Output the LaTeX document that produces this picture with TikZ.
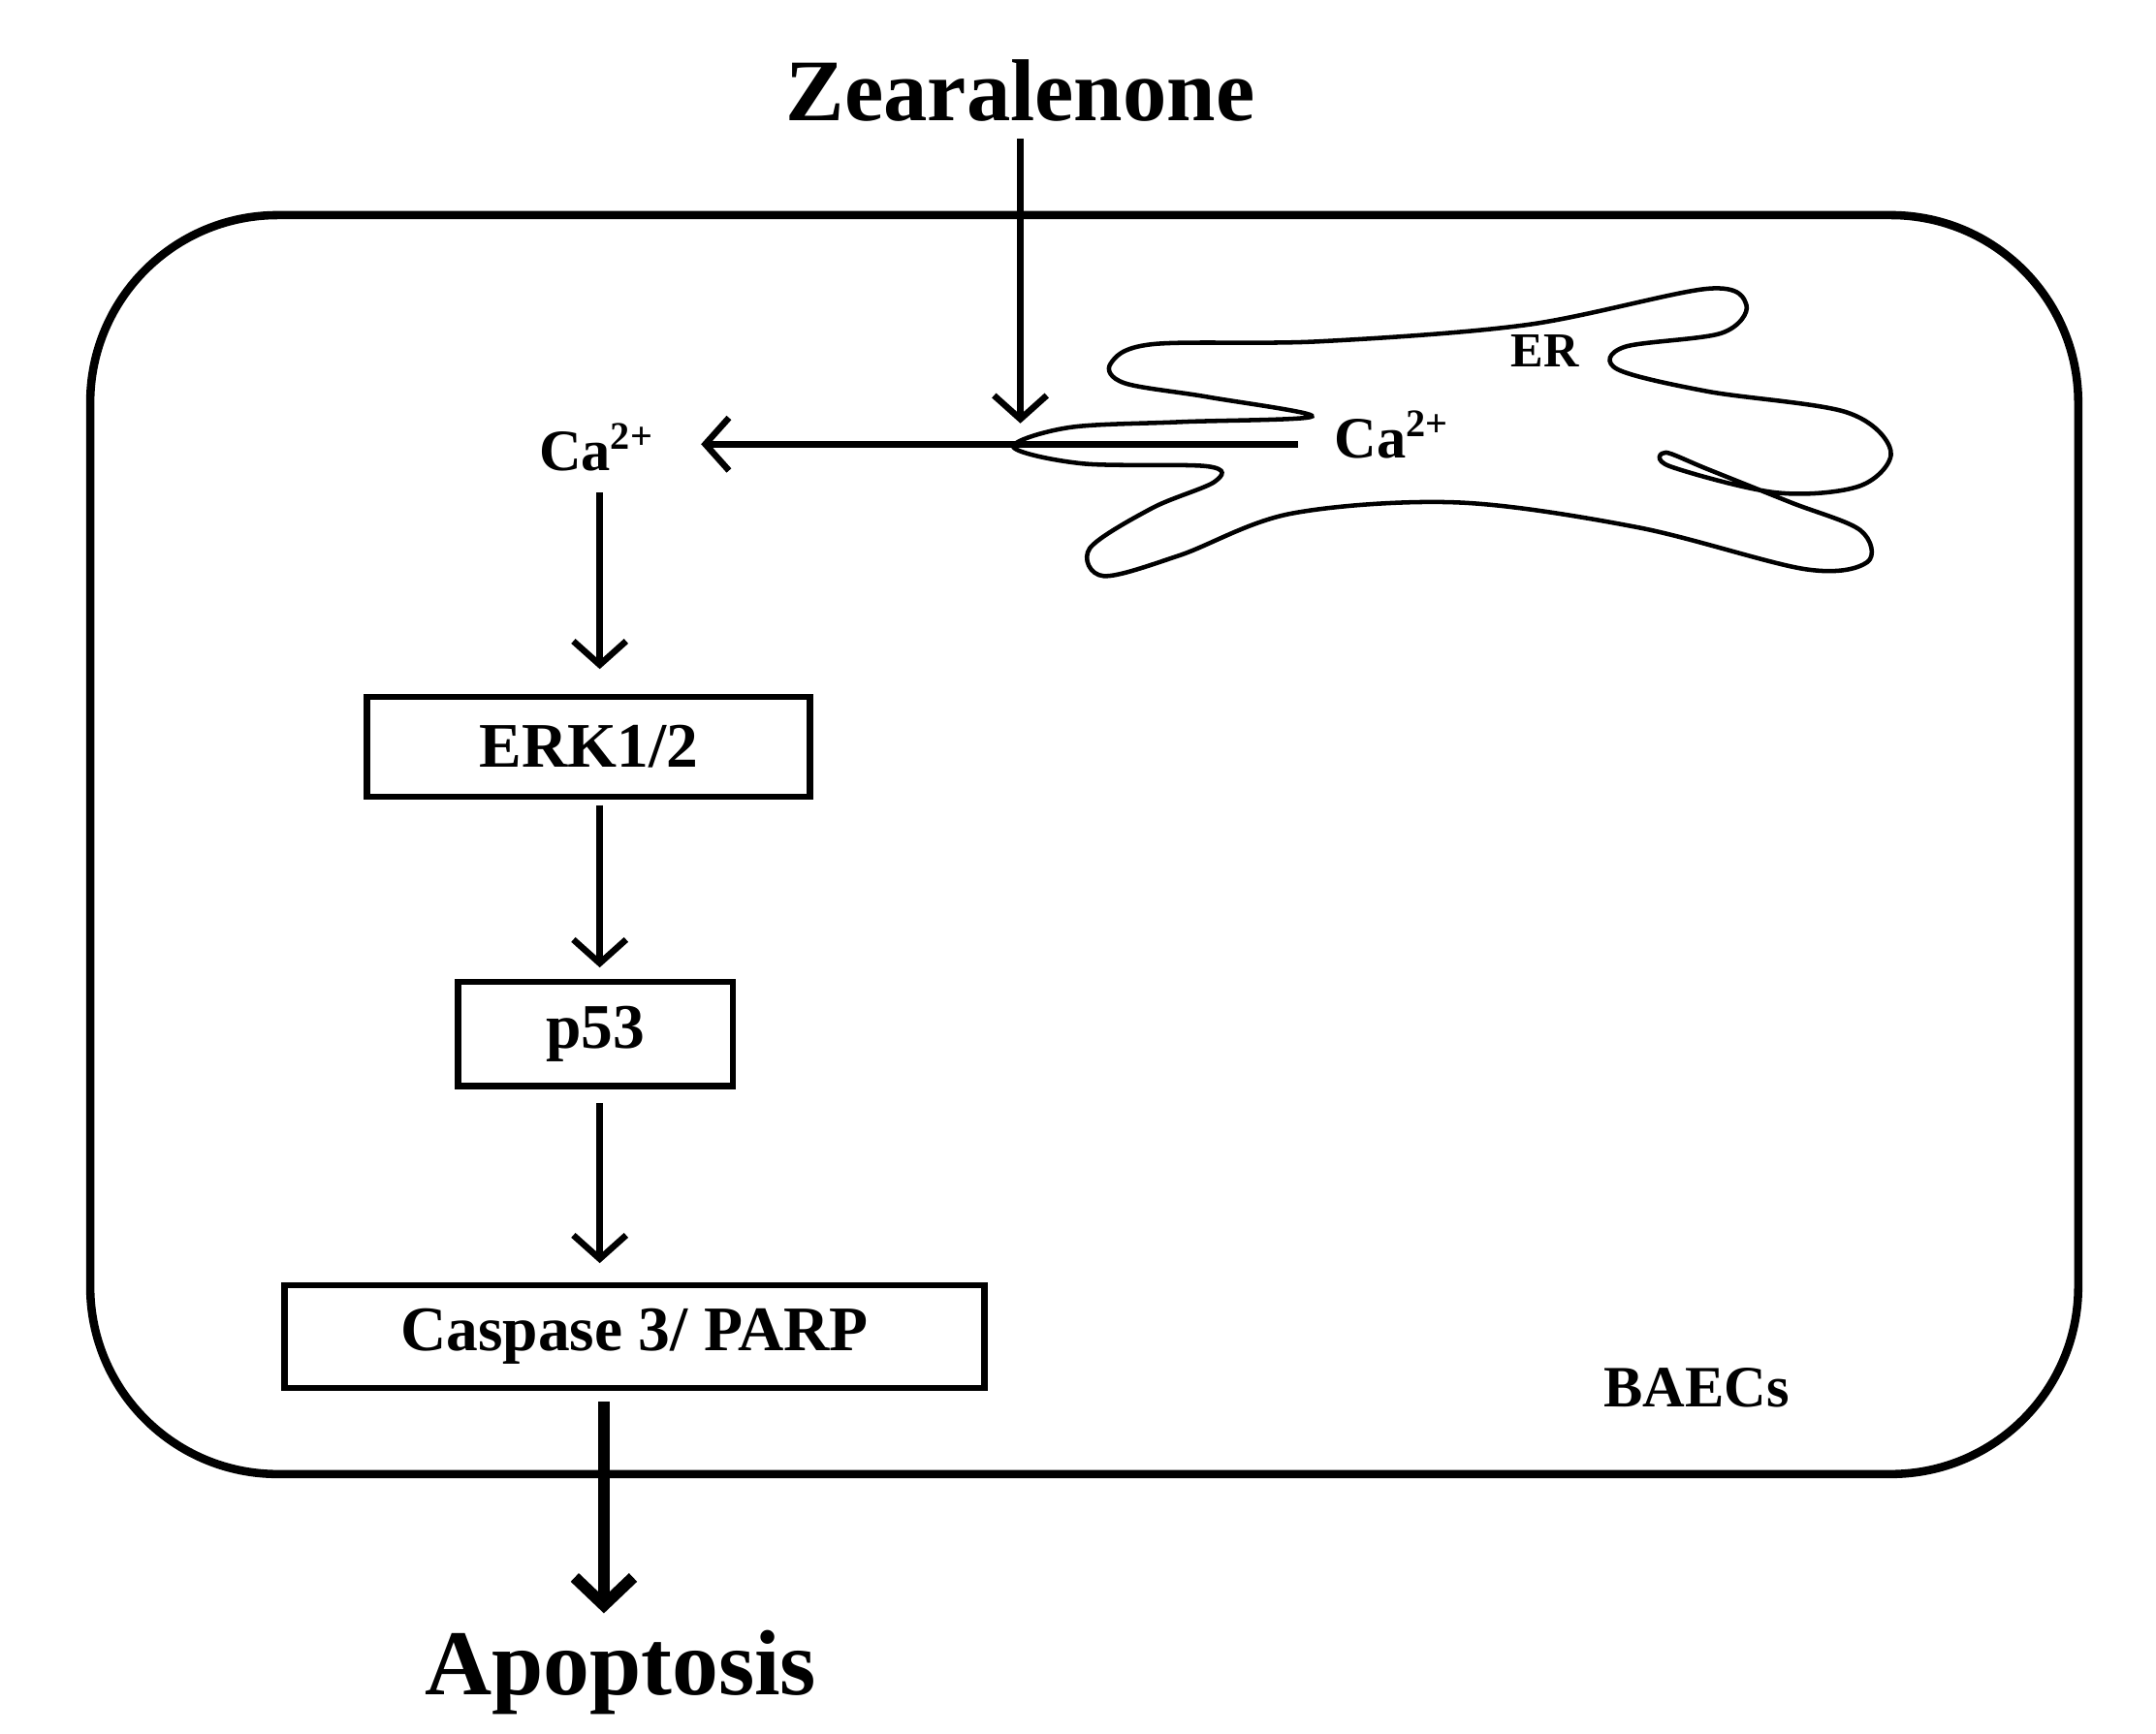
\documentclass[tikz,border=0pt]{standalone}
\usepackage{fontspec}
\setmainfont{Liberation Serif}
\usetikzlibrary{arrows.meta}
\begin{document}
\begin{tikzpicture}[x=0.01cm,y=-0.01cm,
  arr/.style={line width=1.3pt,-{Straight Barb[length=0.17cm,width=0.38cm,line width=1.3pt]}},
  bigarr/.style={line width=2.4pt,-{Straight Barb[length=0.2cm,width=0.42cm,line width=2.4pt]}},
  box/.style={draw,line width=1.3pt,font=\bfseries\fontsize{13}{15}\selectfont,inner sep=0pt},
  lbl/.style={font=\bfseries\fontsize{12}{14}\selectfont}]
\useasboundingbox (0,0) rectangle (1553,1249);
\draw[line width=1.7pt,rounded corners=1.35cm] (65,155) rectangle (1497,1062);
\draw[line width=0.9pt] plot[smooth cycle,tension=0.55] coordinates {
(730,322) (770,308) (850,304) (945,300) (870,286) (810,276) (800,262) (830,248)
(950,246) (1100,234) (1230,208) (1258,220) (1240,240) (1170,250) (1165,266)
(1230,282) (1330,297) (1362,325) (1340,350) (1280,355) (1203,336) (1200,326)
(1230,338) (1290,362) (1340,382) (1345,405) (1300,410) (1180,380) (1050,362)
(930,370) (850,400) (795,415) (785,395) (830,366) (875,347) (870,336) (780,334)};
\node[font=\bfseries\fontsize{18}{21}\selectfont] (z) at (735,65) {Zearalenone};
\node[lbl] (ca1) at (430,322) {Ca\textsuperscript{2+}};
\node[lbl] (ca2) at (1003,313) {Ca\textsuperscript{2+}};
\node[font=\bfseries\fontsize{10}{12}\selectfont] (er) at (1113,253) {ER};
\node[box,minimum width=3.19cm,minimum height=0.72cm] (erk) at (424,538) {ERK1/2};
\node[box,minimum width=1.98cm,minimum height=0.75cm] (p53) at (429,745) {p53};
\node[box,minimum width=5.04cm,minimum height=0.74cm] (cas) at (457,963) {Caspase 3/ PARP};
\node[font=\bfseries\fontsize{19}{22}\selectfont] (apo) at (447,1205) {Apoptosis};
\node[lbl] (bae) at (1222,1000) {BAECs};
\coordinate (zt) at (735,100); \coordinate (zh) at (735,305);
\coordinate (hs) at (935,320); \coordinate (he) at (505,320);
\draw[arr] (zt) -- (zh);
\draw[arr] (hs) -- (he);
\draw[arr] (432,355) -- (432,482);
\draw[arr] (432,580) -- (432,697);
\draw[arr] (432,795) -- (432,910);
\draw[bigarr] (435,1010) -- (apo.north -| 435,0);
\end{tikzpicture}
\end{document}
